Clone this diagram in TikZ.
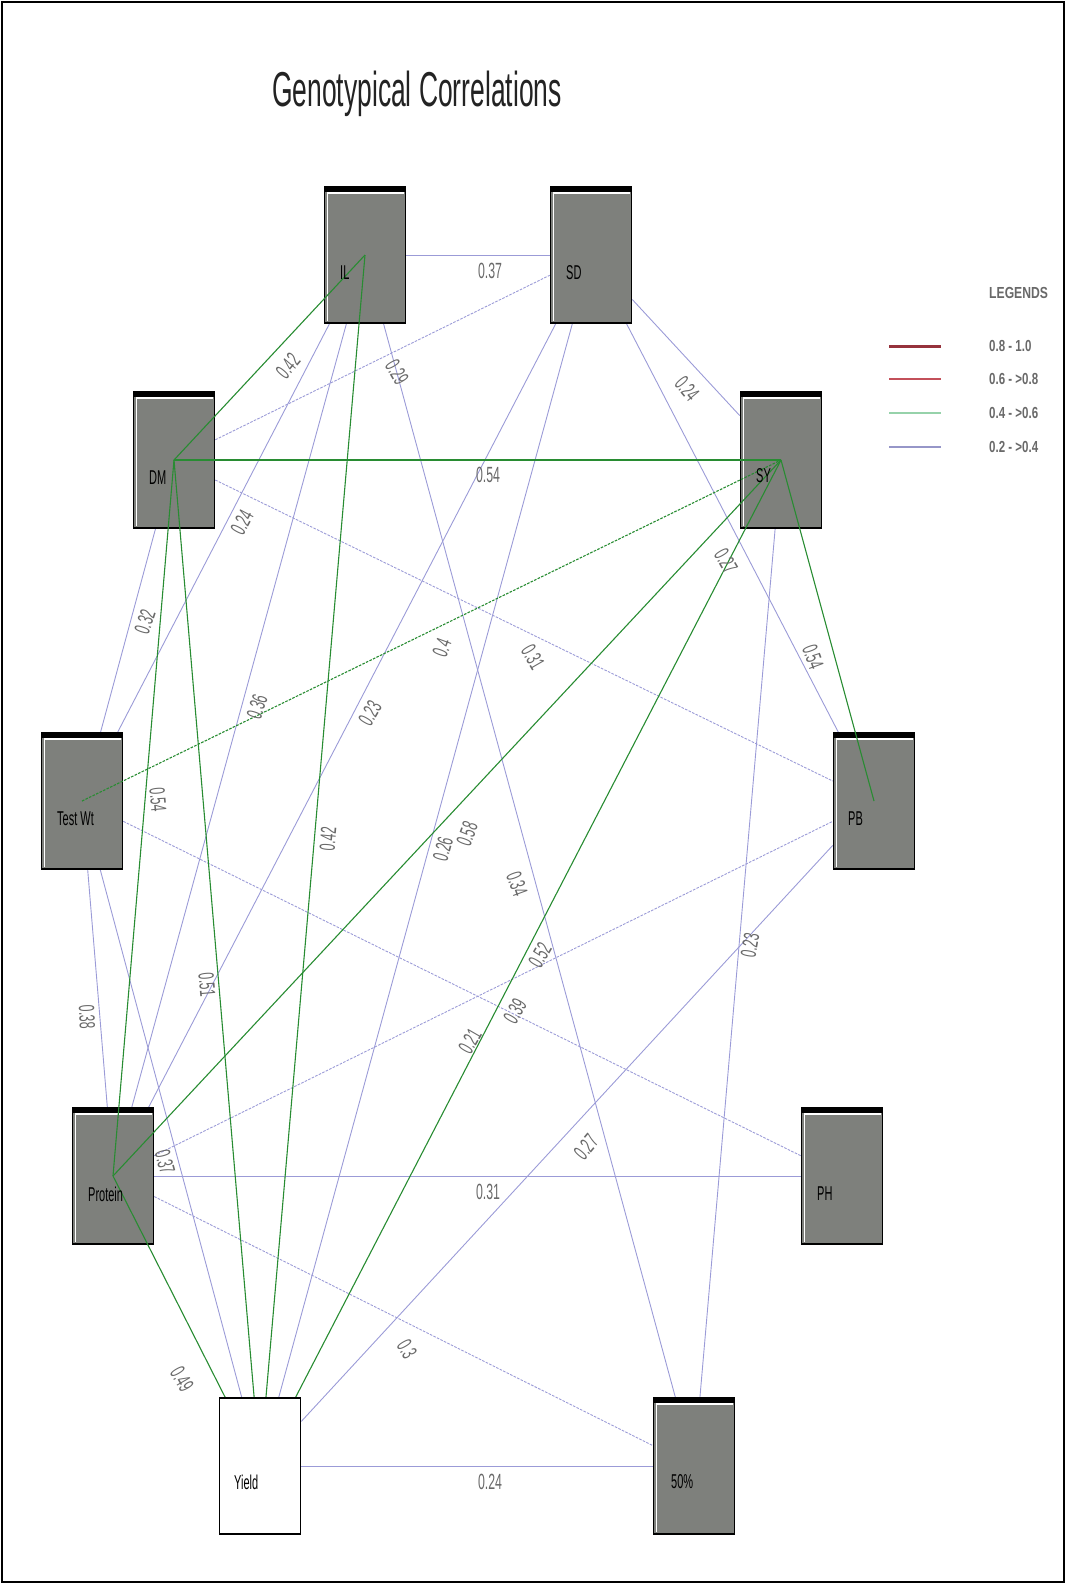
\documentclass[tikz,border=0pt]{standalone}
\usepackage{fontspec}
\setmainfont{Liberation Sans}
\newfontfamily\edgefont[FakeStretch=0.56]{Liberation Sans}
\newfontfamily\nodefont[FakeStretch=0.55]{Liberation Sans}
\newfontfamily\titlefont[FakeStretch=0.54]{Liberation Sans}
\newfontfamily\legfont[FakeStretch=0.72]{Liberation Sans Bold}
\newfontfamily\leghead[FakeStretch=0.76]{Liberation Sans Bold}
\definecolor{boxgrey}{RGB}{126,128,124}
\definecolor{lav}{RGB}{155,155,215}
\definecolor{grn}{RGB}{40,140,50}
\definecolor{labgrey}{RGB}{105,105,105}
\definecolor{legred1}{RGB}{150,50,60}
\definecolor{legred2}{RGB}{195,80,90}
\definecolor{leggrn}{RGB}{150,210,170}
\definecolor{leglav}{RGB}{150,150,200}
\pgfdeclarelayer{bg}
\pgfdeclarelayer{fg}
\pgfsetlayers{bg,main,fg}
\begin{document}
\begin{tikzpicture}[x=1pt,y=-1pt,
  gbox/.style={draw=black, line width=1.6pt, fill=boxgrey, minimum width=81pt, minimum height=136pt, inner sep=0pt,
    path picture={
      \fill[black] (path picture bounding box.north west) rectangle ([yshift=-4.5pt]path picture bounding box.north east);
      \draw[white, line width=1.1pt] ([xshift=2pt,yshift=-6pt]path picture bounding box.north west) -- ([xshift=-2pt,yshift=-6pt]path picture bounding box.north east);
      \draw[white, line width=1.1pt] ([xshift=2.6pt,yshift=-6pt]path picture bounding box.north west) -- ([xshift=2.6pt,yshift=2pt]path picture bounding box.south west);
    }},
  wbox/.style={draw=black, line width=1.6pt, fill=white, minimum width=81pt, minimum height=136pt, inner sep=0pt},
  bl/.style={draw=lav, line width=0.9pt},
  gr/.style={draw=grn, line width=1.1pt},
  dsh/.style={dash pattern=on 2.6pt off 1.3pt},
  elab/.style={rotate=#1, text=labgrey, inner sep=0pt, font=\edgefont\fontsize{22}{22}\selectfont},
  elab/.default=0,
  nlab/.style={anchor=west, inner sep=0pt, font=\nodefont\fontsize{20}{20}\selectfont},
  leg/.style={anchor=west, inner sep=0pt, text=labgrey, font=\legfont\fontsize{16}{16}\selectfont}
]
\useasboundingbox (0,0) rectangle (1066,1585);
\draw[line width=1.2pt] (2,2) rectangle (1064,1582);

\node[font=\titlefont\fontsize{49}{49}\selectfont, text={rgb,255:red,35;green,35;blue,35}] (title) at (417,94) {Genotypical Correlations};

% boxes
\node[gbox] (IL) at (365,255) {};
\node[gbox] (SD) at (591,255) {};
\node[gbox] (DM) at (174,460) {};
\node[gbox] (SY) at (781,460) {};
\node[gbox] (TW) at (82,801) {};
\node[gbox] (PB) at (874,801) {};
\node[gbox] (PR) at (113,1176) {};
\node[gbox] (PH) at (842,1176) {};
\node[gbox] (FP) at (694,1466) {};
\begin{pgfonlayer}{fg}
\node[wbox] (YL) at (260,1466) {};
\end{pgfonlayer}

% blue edges (beneath boxes)
\begin{pgfonlayer}{bg}
\draw[bl] (IL) -- (SD);
\draw[bl,dsh] (DM) -- (SD);
\draw[bl] (SD) -- (SY);
\draw[bl] (IL) -- (TW);
\draw[bl] (DM) -- (TW);
\draw[bl] (IL) -- (PR);
\draw[bl] (SD) -- (PR);
\draw[bl,dsh] (DM) -- (PB);
\draw[bl] (SD) -- (YL);
\draw[bl] (IL) -- (FP);
\draw[bl] (SD) -- (PB);
\draw[bl] (SY) -- (FP);
\draw[bl,dsh] (TW) -- (PH);
\draw[bl,dsh] (PR) -- (PB);
\draw[bl] (YL) -- (PB);
\draw[bl] (PR) -- (PH);
\draw[bl,dsh] (PR) -- (FP);
\draw[bl] (YL) -- (FP);
\draw[bl] (TW) -- (PR);
\draw[bl] (TW) -- (YL);
\end{pgfonlayer}

% green edges (over grey boxes)
\draw[gr] (DM.center) -- (IL.center);
\draw[gr] (DM.center) -- (SY.center);
\draw[gr] (DM.center) -- (PR.center);
\draw[gr] (IL.center) -- (YL.center);
\draw[gr] (DM.center) -- (YL.center);
\draw[gr,dsh] (TW.center) -- (SY.center);
\draw[gr] (PR.center) -- (SY.center);
\draw[gr] (YL.center) -- (SY.center);
\draw[gr] (SY.center) -- (PB.center);
\draw[gr] (PR.center) -- (YL.center);

\begin{pgfonlayer}{fg}
% node labels
\node[nlab] (tIL) at ([shift={(-25,18)}]IL.center) {IL};
\node[nlab] (tSD) at ([shift={(-25,18)}]SD.center) {SD};
\node[nlab] (tDM) at ([shift={(-25,18)}]DM.center) {DM};
\node[nlab] (tSY) at ([shift={(-25,16)}]SY.center) {SY};
\node[nlab] (tTW) at ([shift={(-25,18)}]TW.center) {Test Wt};
\node[nlab] (tPB) at ([shift={(-26,18)}]PB.center) {PB};
\node[nlab] (tPR) at ([shift={(-25,18)}]PR.center) {Protein};
\node[nlab] (tPH) at ([shift={(-25,18)}]PH.center) {PH};
\node[nlab] (tYL) at ([shift={(-26,16)}]YL.center) {Yield};
\node[nlab] (tFP) at ([shift={(-23,16)}]FP.center) {50\%};

% edge labels
\node[elab] (l1) at (490,271) {0.37};
\node[elab=-60] (l2) at (397,372) {0.29};
\node[elab=-50] (l3) at (687,389) {0.24};
\node[elab=62] (l4) at (242,522) {0.24};
\node[elab=72] (l5) at (145,622) {0.32};
\node[elab=72] (l6) at (257,707) {0.36};
\node[elab=60] (l7) at (370,713) {0.23};
\node[elab=-60] (l8) at (533,657) {0.31};
\node[elab=75] (l9) at (443,849) {0.26};
\node[elab=-70] (l10) at (517,884) {0.34};
\node[elab=-60] (l11) at (726,561) {0.27};
\node[elab=80] (l12) at (750,945) {0.23};
\node[elab=60] (l13) at (470,1041) {0.21};
\node[elab=60] (l14) at (515,1011) {0.39};
\node[elab=50] (l15) at (586,1147) {0.27};
\node[elab] (l16) at (488,1192) {0.31};
\node[elab=-60] (l17) at (407,1349) {0.3};
\node[elab] (l18) at (490,1482) {0.24};
\node[elab=-87] (l19) at (87,1017) {0.38};
\node[elab=-75] (l20) at (165,1162) {0.37};
\node[elab=50] (l21) at (288,366) {0.42};
\node[elab] (l22) at (488,475) {0.54};
\node[elab=-85] (l23) at (158,800) {0.54};
\node[elab=85] (l24) at (328,839) {0.42};
\node[elab=-85] (l25) at (207,985) {0.51};
\node[elab=70] (l26) at (442,648) {0.4};
\node[elab=70] (l27) at (467,834) {0.58};
\node[elab=60] (l28) at (540,955) {0.52};
\node[elab=-70] (l29) at (813,657) {0.54};
\node[elab=-60] (l30) at (182,1379) {0.49};
\end{pgfonlayer}

% legend
\node[anchor=west, inner sep=0pt, text=labgrey, font=\leghead\fontsize{16}{16}\selectfont] (legt) at (989,293) {LEGENDS};
\coordinate (a1) at (889,346); \coordinate (b1) at (941,346);
\coordinate (a2) at (889,379); \coordinate (b2) at (941,379);
\coordinate (a3) at (889,413); \coordinate (b3) at (941,413);
\coordinate (a4) at (889,447); \coordinate (b4) at (941,447);
\draw[legred1, line width=3pt] (a1) -- (b1);
\draw[legred2, line width=1.8pt] (a2) -- (b2);
\draw[leggrn, line width=1.8pt] (a3) -- (b3);
\draw[leglav, line width=1.8pt] (a4) -- (b4);
\node[leg] (lg1) at (989,346) {0.8 - 1.0};
\node[leg] (lg2) at (989,379) {0.6 - >0.8};
\node[leg] (lg3) at (989,413) {0.4 - >0.6};
\node[leg] (lg4) at (989,447) {0.2 - >0.4};
\end{tikzpicture}
\end{document}
